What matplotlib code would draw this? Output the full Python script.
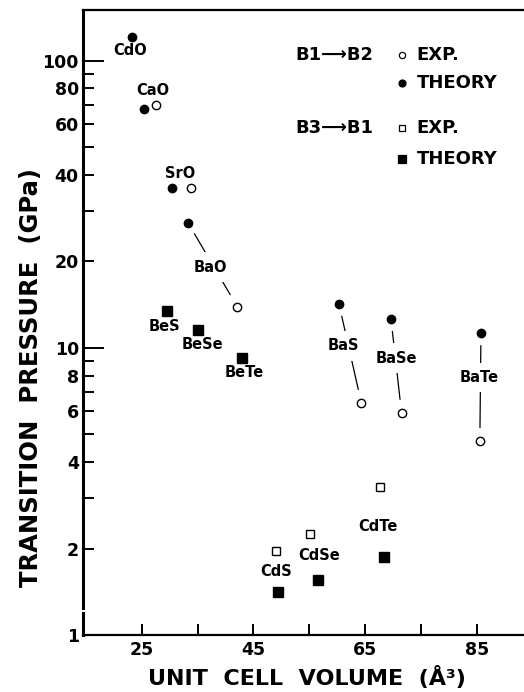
import matplotlib
matplotlib.use("Agg")
import matplotlib.pyplot as plt
from matplotlib.ticker import FixedLocator, FuncFormatter, NullFormatter
import numpy as np

plt.rcParams["font.family"] = ["DejaVu Sans"]
plt.rcParams["font.weight"] = "bold"

# B1 -> B2 transitions (circles)
b1b2_names = ["CdO", "CaO", "SrO", "BaO", "BaS", "BaSe", "BaTe"]
b1b2_vol_theory = [23.2, 25.5, 30.5, 33.3, 60.3, 69.6, 85.7]
b1b2_p_theory = [121, 67.9, 35.9, 27.2, 14.2, 12.6, 11.25]
b1b2_vol_exp = [np.nan, 27.5, 33.9, 42.1, 64.3, 71.5, 85.5]
b1b2_p_exp = [np.nan, 70.1, 35.9, 13.9, 6.42, 5.92, 4.72]
b1b2_label_x = [22.9, 27.0, 31.8, 37.3, 61.0, 70.5, 85.4]
b1b2_label_y = [108, 78.6, 40.4, 19.1, 10.16, 9.2, 7.88]
b1b2_linked = ["BaO", "BaS", "BaSe", "BaTe"]

# B3 -> B1 transitions (squares)
b3b1_names = ["BeS", "BeSe", "BeTe", "CdS", "CdSe", "CdTe"]
b3b1_vol_theory = [29.5, 35.1, 42.9, 49.3, 56.5, 68.4]
b3b1_p_theory = [13.4, 11.5, 9.2, 1.41, 1.55, 1.87]
b3b1_vol_exp = [np.nan, np.nan, np.nan, 49.0, 55.2, 67.6]
b3b1_p_exp = [np.nan, np.nan, np.nan, 1.96, 2.25, 3.27]
b3b1_label_x = [29.0, 35.8, 43.4, 49.1, 56.8, 67.2]
b3b1_label_y = [11.9, 10.24, 8.2, 1.67, 1.885, 2.385]

x_major = [25, 45, 65, 85]
x_minor = [35, 55, 75]
y_major = [1, 10, 100]
y_minor = [2, 3, 4, 5, 6, 7, 8, 9, 20, 30, 40, 50, 60, 70, 80, 90]
y_minor_labels = [2, 4, 6, 8, 20, 40, 60, 80]

fig = plt.figure(figsize=(5.24, 6.92), dpi=100)
ax = fig.add_axes([0.1584, 0.0824, 0.8416, 0.9032])
ax.set_yscale("log")
ax.set_xlim(14.5, 93.4)
ax.set_ylim(1, 150)

# connecting lines between theory and experiment
for name, xt, yt, xe, ye in zip(b1b2_names, b1b2_vol_theory, b1b2_p_theory,
                                b1b2_vol_exp, b1b2_p_exp):
    if name in b1b2_linked:
        ax.annotate("", xy=(xe, ye), xytext=(xt, yt),
                    arrowprops=dict(arrowstyle="-", color="black", lw=0.9,
                                    shrinkA=9, shrinkB=10), zorder=1)

# labels
for name, lx, ly in zip(b1b2_names + b3b1_names, b1b2_label_x + b3b1_label_x,
                        b1b2_label_y + b3b1_label_y):
    ax.text(lx, ly, name, ha="center", va="center", fontsize=10.5,
            fontweight="bold", zorder=2,
            bbox=dict(boxstyle="square,pad=0.5", fc="white", ec="none"))

# markers
ax.plot(b1b2_vol_theory, b1b2_p_theory, "o", ms=6, mfc="black", mec="black",
        ls="none", zorder=3)
ax.plot(b1b2_vol_exp, b1b2_p_exp, "o", ms=6, mfc="white", mec="black",
        mew=1.0, ls="none", zorder=3)
ax.plot(b3b1_vol_theory, b3b1_p_theory, "s", ms=7, mfc="black", mec="black",
        ls="none", zorder=3)
ax.plot(b3b1_vol_exp, b3b1_p_exp, "s", ms=5.5, mfc="white", mec="black",
        mew=1.0, ls="none", zorder=3)

# legend (custom)
leg_fs = 13
ax.text(0.571, 0.928, "B1\u27f6B2", transform=ax.transAxes, ha="center",
        va="center", fontsize=leg_fs, fontweight="bold")
ax.text(0.571, 0.8107, "B3\u27f6B1", transform=ax.transAxes, ha="center",
        va="center", fontsize=leg_fs, fontweight="bold")
leg_rows = [(0.928, "o", 4.5, "white", "EXP."),
            (0.8837, "o", 5, "black", "THEORY"),
            (0.8107, "s", 4.5, "white", "EXP."),
            (0.762, "s", 6, "black", "THEORY")]
for yy, mk, ms, fc, txt in leg_rows:
    ax.plot([0.7227], [yy], mk, ms=ms, mfc=fc, mec="black", mew=0.9,
            transform=ax.transAxes, clip_on=False)
    ax.text(0.7567, yy, txt, transform=ax.transAxes, ha="left", va="center",
            fontsize=leg_fs, fontweight="bold")

# axes styling
ax.xaxis.set_major_locator(FixedLocator(x_major))
ax.xaxis.set_minor_locator(FixedLocator(x_minor))
ax.yaxis.set_major_locator(FixedLocator(y_major))
ax.yaxis.set_minor_locator(FixedLocator(y_minor))
ax.yaxis.set_major_formatter(FuncFormatter(lambda v, p: f"{v:g}"))
ax.yaxis.set_minor_formatter(
    FuncFormatter(lambda v, p: f"{v:g}" if round(v) in y_minor_labels else ""))
ax.xaxis.set_minor_formatter(NullFormatter())

ax.tick_params(axis="x", which="both", direction="in", length=8, width=1.4,
               labelsize=12.5, pad=4)
ax.tick_params(axis="y", which="major", direction="in", length=15, width=1.4,
               labelsize=12.5, pad=3)
ax.tick_params(axis="y", which="minor", direction="in", length=8, width=1.4,
               labelsize=12.5, pad=3)
for lab in ax.get_xticklabels() + ax.get_yticklabels(which="both"):
    lab.set_fontweight("bold")

ax.spines["right"].set_visible(False)
ax.spines["left"].set_visible(False)
ax.spines["top"].set_linewidth(1.6)
ax.spines["bottom"].set_linewidth(1.6)
# broken left axis
ax.axvline(14.5, ymin=0, ymax=0.035, color="black", lw=2.2, clip_on=False)
ax.axvline(14.5, ymin=0.043, ymax=1, color="black", lw=2.2, clip_on=False)

fig.text(0.585, 0.004, "UNIT  CELL  VOLUME  (\u00c5\u00b3)", ha="center",
         va="bottom", fontsize=16, fontweight="bold")
fig.text(0.06, 0.455, "TRANSITION  PRESSURE  (GPa)", ha="center",
         va="center", rotation=90, fontsize=17.5, fontweight="bold")

fig.savefig("out.png", dpi=100, facecolor="white")
